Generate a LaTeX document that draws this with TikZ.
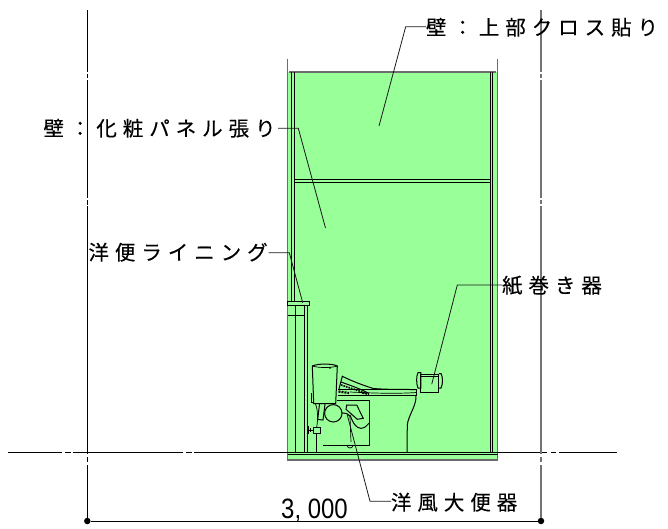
\documentclass[tikz,border=0pt]{standalone}
\usepackage{fontspec}
\setmainfont{Noto Sans CJK JP}
\newfontfamily\numfont{Liberation Sans}
\tikzset{
  ln/.style={draw=black,line width=1pt},
  thin ln/.style={draw=black,line width=0.7pt},
  outer/.style={draw=gray!85!black,line width=1.3pt},
  dim/.style={draw=black,line width=1pt},
  dimg/.style={draw=gray!90!black,line width=1.1pt},
  lead/.style={draw=black!90,line width=0.8pt},
  lab/.style={inner sep=0pt,outer sep=0pt,text=black,font=\fontsize{20.5}{20.5}\selectfont\addfontfeature{LetterSpace=29,FakeBold=0.25}},
  dimdot/.style={circle,fill=black,inner sep=0pt,minimum size=6.5pt}
}
\definecolor{wallgreen}{HTML}{99FF99}
\begin{document}
\begin{tikzpicture}[x=1pt,y=-1pt]
\useasboundingbox (0,0) rectangle (668,529);
% green wall
\fill[wallgreen] (287.5,72) rectangle (497,460);
% outer grey
\draw[outer] (287.5,59) -- (287.5,460) -- (497.5,460) -- (497.5,59);
\draw[outer] (289,72) -- (496,72);
% inner verticals
\draw[ln] (291.3,72) -- (291.3,301);
\draw[ln] (294,72) -- (294,301);
\draw[ln] (490,72) -- (490,452);
\draw[ln] (492.7,72) -- (492.7,452);
\draw[ln] (294,180) -- (490,180);
\draw[thin ln] (294,182) -- (490,182);
% base
\draw[ln] (287.5,454.5) -- (497.5,454.5);
% lining
\draw[ln,fill=wallgreen] (287.5,301.5) rectangle (309.3,305);
\draw[ln] (295.7,305) -- (295.7,452);
\draw[ln] (304.8,305) -- (304.8,452);
\draw[ln] (307.3,305) -- (307.3,452);
\draw[ln] (287.5,315) -- (305,315);
% tank
\draw[ln] (312.3,366) .. controls (318,363.4) and (332,363.4) .. (337.3,366) -- (335.7,403.5) -- (313.7,403.5) -- cycle;
\draw[thin ln] (312.3,366) .. controls (318,368) and (332,368) .. (337.3,366);
\fill (330,367.8) circle (1);
\draw[ln] (311.8,393) -- (311.8,402) -- (313.5,402);
% flush pipes under the tank
\draw[ln] (319.5,404) -- (317.7,419.5) -- (323,420) -- (325,404);
\draw[thin ln] (315.5,404) .. controls (318,410) and (318,420) .. (316.7,427);
\draw[ln] (316.7,434) -- (316.7,452);
% valve
\draw[ln] (308.5,426) -- (308.5,434);
\draw[ln] (310.5,428) -- (310.5,432);
\draw[ln] (308.5,430) -- (313,430);
\draw[ln] (313,427) rectangle (320,433);
% tank connection circle
\draw[ln] (333.3,413.3) circle (8.7);
% bowl box
\draw[ln] (337,400.7) -- (369,400.7) -- (369,445) -- (323.3,445);
% seat
\draw[ln] (338,389.5) -- (416.7,389.5) -- (416.7,395) -- (338,395);
\draw[thin ln] (350,392) .. controls (370,393) and (395,394) .. (416.7,392.5);
% lid
\draw[ln] (339,389) -- (342.3,376.3) .. controls (352,381) and (362,385) .. (373.3,388.5) .. controls (385,389.5) and (400,389.5) .. (416.7,389.5);
\draw[ln] (341,382) .. controls (352,386) and (362,389.5) .. (368,393);
\draw[line width=1.6pt,dash pattern=on 1.6pt off 1pt] (341,385) -- (367,393.5);
\draw[line width=2.2pt,dash pattern=on 2pt off 1pt] (338.5,391.5) -- (349,393);
\draw[line width=1.8pt,dash pattern=on 2pt off 1pt] (362,393) -- (369,394);
% bowl front
\draw[ln] (416,395) .. controls (417,405) and (408,416) .. (407.3,425) -- (407,452);
% trap
\draw[ln] (346.7,405) -- (346,409.3) -- (357.3,419.3) -- (363.3,418.3) -- (356.7,405) -- cycle;
\draw[ln] (350,415) .. controls (353,423) and (356,428.3) .. (361,428.3) .. controls (364,428.3) and (367,426) .. (369,423.3);
\draw[ln] (342,412.8) .. controls (345,412.8) and (348,413.5) .. (350,416.5);
\draw[thin ln] (347,445) arc (180:0:3);
\draw[thin ln] (350,417) -- (351,442);
% paper holder
\draw[ln] (420.8,374) rectangle (438.8,392.3);
\draw[ln] (418,372.5) -- (420.8,372.5) -- (420.8,388) -- (418,388) .. controls (416.2,384) and (416.2,376) .. (418,372.5);
\draw[ln] (438.8,373.5) -- (441,373.5) .. controls (443,377) and (443,384) .. (441,388) -- (438.8,388);
\draw[thin ln] (420.8,376) -- (438.8,376);
% centre line
\coordinate (c0) at (8,452.3); \coordinate (c1) at (62,452.3);
\coordinate (c2) at (65,452.3); \coordinate (c3) at (71,452.3);
\coordinate (c4) at (73,452.3); \coordinate (c5) at (183,452.3);
\coordinate (c6) at (186,452.3); \coordinate (c7) at (192,452.3);
\coordinate (c8) at (194,452.3); \coordinate (c9) at (547,452.3);
\coordinate (c10) at (551,452.3); \coordinate (c11) at (556,452.3);
\coordinate (c12) at (559,452.3); \coordinate (c13) at (617,452.3);
\draw[dim] (c0)--(c1) (c2)--(c3) (c4)--(c5) (c6)--(c7) (c8)--(c9) (c10)--(c11) (c12)--(c13);
% dimension
\node[dimdot] (dl) at (87.3,521) {};
\node[dimdot] (dr) at (541,521) {};
\coordinate (lt) at (87.3,10); \coordinate (rt) at (541,10);
\draw[dim] (dl) -- (dr);
\draw[dim] (lt) -- (87.3,72) (87.3,74) -- (87.3,78.3) (87.3,80) -- (87.3,198) (87.3,200) -- (87.3,205) (87.3,206.5) -- (87.3,453.5) (87.3,457) -- (87.3,462) (87.3,465) -- (dl);
\draw[dimg] (rt) -- (541,72) (541,74) -- (541,78.3) (541,80) -- (541,198) (541,200) -- (541,204) (541,206) -- (541,453.5) (541,457) -- (541,462) (541,465) -- (dr);
\node[inner sep=0pt,anchor=base west] (dimt) at (281,518) {\numfont\fontsize{28}{28}\selectfont\scalebox{.855}[1]{3, 000}};
% labels
\node[lab,anchor=base west] (la) at (426,35) {壁：上部クロス貼り};
\node[lab,anchor=base west] (lb) at (43.5,136) {壁：化粧パネル張り};
\node[lab,anchor=base west] (lc) at (88.5,260) {洋便ライニング};
\node[lab,anchor=base west] (ld) at (502,293) {紙巻き器};
\node[lab,anchor=base west] (le) at (391,510) {洋風大便器};
% leaders
\coordinate (ae) at (405.7,26.7); \coordinate (at) at (379,126);
\coordinate (bs) at (278,128.3); \coordinate (be) at (298.3,128.3); \coordinate (bt) at (325.5,228);
\coordinate (cs) at (268.7,252.7); \coordinate (ce) at (289.3,252.7); \coordinate (ct) at (302.7,302.7);
\coordinate (de) at (457.3,285); \coordinate (dt) at (431.7,384.3);
\coordinate (ee) at (370,501.3); \coordinate (et) at (347.3,415);
\draw[lead] (la.west |- ae) -- (ae) -- (at);
\draw[lead] (bs) -- (be) -- (bt);
\draw[lead] (cs) -- (ce) -- (ct);
\draw[lead] (ld.west |- de) -- (de) -- (dt);
\draw[lead] (le.west |- ee) -- (ee) -- (et);
\end{tikzpicture}
\end{document}
